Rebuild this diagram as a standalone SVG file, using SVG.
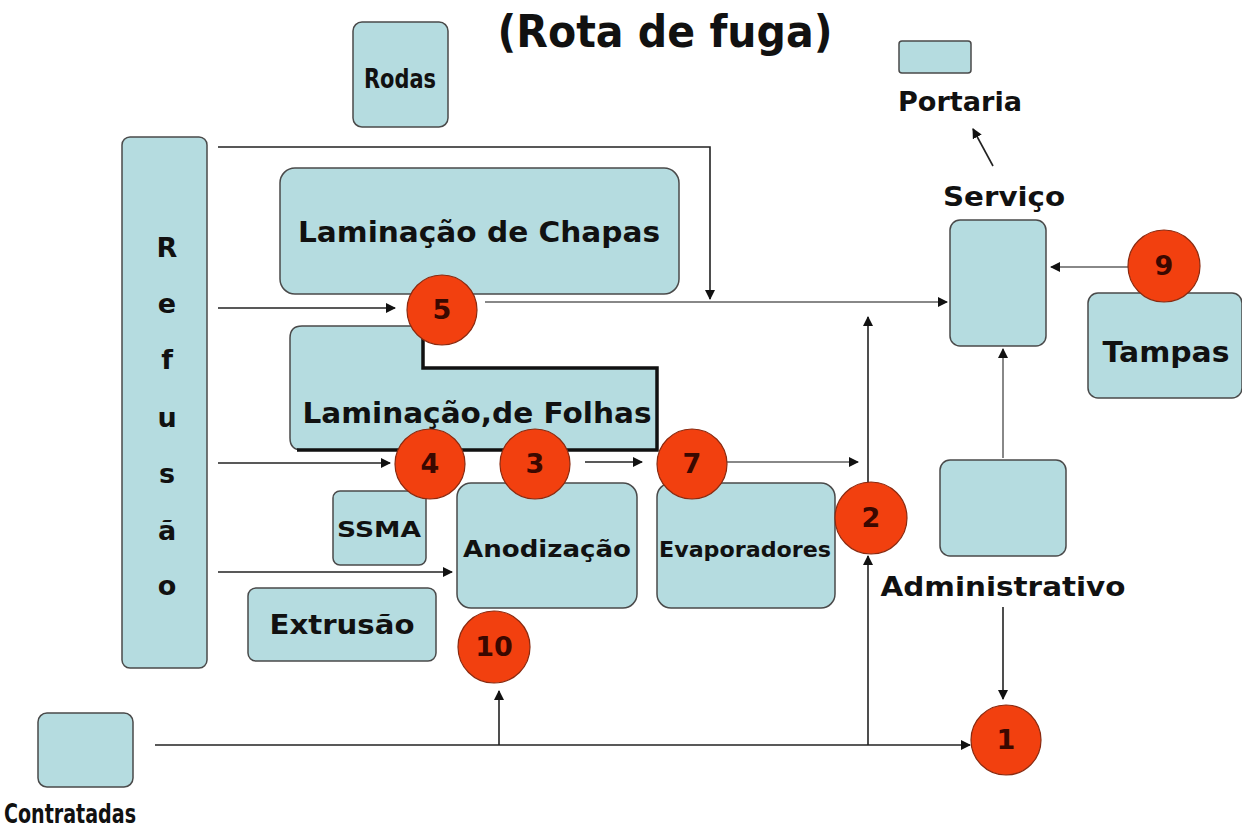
<svg xmlns="http://www.w3.org/2000/svg" width="1242" height="832" viewBox="0 0 1242 832">
<style>
.box{fill:#b5dce0;stroke:#4a4a4a;stroke-width:1.5}
.lbl{font-family:"DejaVu Sans",Verdana,sans-serif;font-weight:bold;fill:#111;text-anchor:middle}
.num{font-family:"DejaVu Sans",Verdana,sans-serif;font-weight:bold;fill:#3a0800;text-anchor:middle;font-size:27px}
.dot{fill:#f2400f;stroke:#8a2a10;stroke-width:1.2}
.ln{fill:none;stroke:#222;stroke-width:1.6}
.lg{fill:none;stroke:#888;stroke-width:2}
</style>
<defs>
<marker id="ah" markerWidth="10" markerHeight="10" refX="9" refY="5" orient="auto" markerUnits="userSpaceOnUse">
<path d="M0,0 L10,5 L0,10 Z" fill="#111"/>
</marker>
</defs>
<rect width="1242" height="832" fill="#fff"/>
<text class="lbl" x="665" y="47" font-size="45" textLength="335" lengthAdjust="spacingAndGlyphs">(Rota de fuga)</text>

<g id="connectors">
<path class="ln" d="M218,147 H710 V299" marker-end="url(#ah)"/>
<path class="ln" d="M218,308 H395" marker-end="url(#ah)"/>
<path class="lg" d="M485,302 H947" marker-end="url(#ah)"/>
<path class="ln" d="M218,463 H390" marker-end="url(#ah)"/>
<path class="ln" d="M585,462 H642" marker-end="url(#ah)"/>
<path class="lg" d="M727,462 H858" marker-end="url(#ah)"/>
<path class="ln" d="M218,572 H452" marker-end="url(#ah)"/>
<path class="ln" d="M155,745 H970" marker-end="url(#ah)"/>
<path class="ln" d="M499,745 V691" marker-end="url(#ah)"/>
<path class="ln" d="M868,745 V556" marker-end="url(#ah)"/>
<path class="ln" d="M868,484 V317" marker-end="url(#ah)"/>
<path class="lg" d="M1003,458 V349" marker-end="url(#ah)"/>
<path class="ln" d="M1003,607 V699" marker-end="url(#ah)"/>
<path class="lg" d="M1128,267 H1051" marker-end="url(#ah)"/>
<path class="ln" d="M993,166 L973,129" marker-end="url(#ah)"/>
</g>

<g id="rodas"><rect class="box" x="353" y="22" width="95" height="105" rx="9"/><text class="lbl" x="400" y="88" font-size="26" textLength="72" lengthAdjust="spacingAndGlyphs">Rodas</text></g>
<g id="portaria"><rect class="box" x="899" y="41" width="72" height="32" rx="3"/><text class="lbl" x="960" y="111" font-size="26" textLength="124" lengthAdjust="spacingAndGlyphs">Portaria</text></g>
<g id="refusao"><rect class="box" x="122" y="137" width="85" height="531" rx="8"/>
<text class="lbl" font-size="27"><tspan x="167" y="257">R</tspan><tspan x="167" y="313">e</tspan><tspan x="167" y="369">f</tspan><tspan x="167" y="427">u</tspan><tspan x="167" y="483">s</tspan><tspan x="167" y="540">ã</tspan><tspan x="167" y="595">o</tspan></text></g>
<g id="lam-chapas"><rect class="box" x="280" y="168" width="399" height="126" rx="15"/><text class="lbl" x="479" y="242" font-size="28" textLength="362" lengthAdjust="spacingAndGlyphs">Laminação de Chapas</text></g>
<g id="lam-folhas"><path class="box" d="M302,326 H423 V368 H657 V450 H302 Q290,450 290,438 V338 Q290,326 302,326 Z"/>
<path d="M423,336 V368 H657 V450 H297" fill="none" stroke="#111" stroke-width="3.5"/>
<text class="lbl" x="477" y="423" font-size="28" textLength="349" lengthAdjust="spacingAndGlyphs">Laminação,de Folhas</text></g>
<g id="ssma"><rect class="box" x="333" y="491" width="93" height="74" rx="7"/><text class="lbl" x="379" y="537" font-size="22" textLength="84" lengthAdjust="spacingAndGlyphs">SSMA</text></g>
<g id="anodizacao"><rect class="box" x="457" y="483" width="180" height="125" rx="14"/><text class="lbl" x="547" y="557" font-size="23" textLength="168" lengthAdjust="spacingAndGlyphs">Anodização</text></g>
<g id="evaporadores"><rect class="box" x="657" y="483" width="178" height="125" rx="14"/><text class="lbl" x="745" y="557" font-size="21" textLength="172" lengthAdjust="spacingAndGlyphs">Evaporadores</text></g>
<g id="extrusao"><rect class="box" x="248" y="588" width="188" height="73" rx="8"/><text class="lbl" x="342" y="634" font-size="27" textLength="145" lengthAdjust="spacingAndGlyphs">Extrusão</text></g>
<g id="servico"><rect class="box" x="950" y="220" width="96" height="126" rx="10"/><text class="lbl" x="1004" y="206" font-size="27" textLength="122" lengthAdjust="spacingAndGlyphs">Serviço</text></g>
<g id="tampas"><rect class="box" x="1088" y="293" width="154" height="105" rx="10"/><text class="lbl" x="1166" y="362" font-size="29" textLength="127" lengthAdjust="spacingAndGlyphs">Tampas</text></g>
<g id="administrativo"><rect class="box" x="940" y="460" width="126" height="96" rx="10"/><text class="lbl" x="1003" y="596" font-size="27" textLength="245" lengthAdjust="spacingAndGlyphs">Administrativo</text></g>
<g id="contratadas"><rect class="box" x="38" y="713" width="95" height="74" rx="9"/><text class="lbl" x="70" y="823" font-size="27" textLength="132" lengthAdjust="spacingAndGlyphs">Contratadas</text></g>

<g id="p5"><circle class="dot" cx="442" cy="310" r="35"/><text class="num" x="442" y="319">5</text></g>
<g id="p4"><circle class="dot" cx="430" cy="464" r="35"/><text class="num" x="430" y="473">4</text></g>
<g id="p3"><circle class="dot" cx="535" cy="464" r="35"/><text class="num" x="535" y="473">3</text></g>
<g id="p7"><circle class="dot" cx="692" cy="464" r="35"/><text class="num" x="692" y="473">7</text></g>
<g id="p2"><circle class="dot" cx="871" cy="518" r="36"/><text class="num" x="871" y="527">2</text></g>
<g id="p10"><circle class="dot" cx="494" cy="647" r="36"/><text class="num" x="494" y="656">10</text></g>
<g id="p9"><circle class="dot" cx="1164" cy="266" r="36"/><text class="num" x="1164" y="275">9</text></g>
<g id="p1"><circle class="dot" cx="1006" cy="740" r="35"/><text class="num" x="1006" y="749">1</text></g>
</svg>
